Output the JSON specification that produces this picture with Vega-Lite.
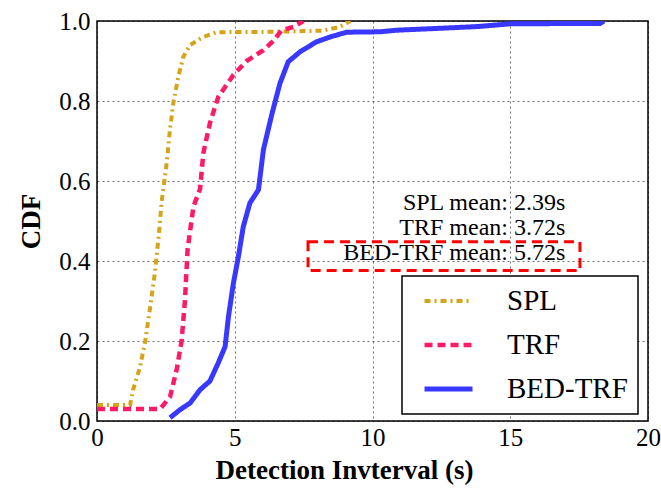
{
  "$schema": "https://vega.github.io/schema/vega-lite/v6.json",
  "width": 551,
  "height": 400,
  "autosize": {"type": "none"},
  "padding": {"left": 97, "top": 21, "right": 13, "bottom": 67},
  "background": "white",
  "config": {
    "font": "Liberation Serif",
    "view": {"stroke": "#000", "strokeWidth": 1.5},
    "legend": {"strokeColor": "#000", "strokeWidth": 1.5, "fillColor": "white", "cornerRadius": 0, "padding": 10},
    "axis": {
      "domain": false,
      "ticks": false,
      "grid": true,
      "gridColor": "#000",
      "gridOpacity": 0.7,
      "gridDash": [2, 3],
      "gridWidth": 0.8,
      "labelFlush": false,
      "labelFont": "Liberation Serif",
      "labelFontSize": 25,
      "labelColor": "#000",
      "titleFont": "Liberation Serif",
      "titleFontSize": 27,
      "titleFontWeight": "bold",
      "titleColor": "#000"
    }
  },
  "datasets": {
    "curves": [
      {"series": "SPL", "x": 0, "y": 0.04},
      {"series": "SPL", "x": 1.2, "y": 0.04},
      {"series": "SPL", "x": 1.31, "y": 0.078},
      {"series": "SPL", "x": 1.56, "y": 0.135},
      {"series": "SPL", "x": 1.74, "y": 0.195},
      {"series": "SPL", "x": 1.92, "y": 0.28},
      {"series": "SPL", "x": 2.1, "y": 0.37},
      {"series": "SPL", "x": 2.25, "y": 0.47},
      {"series": "SPL", "x": 2.35, "y": 0.55},
      {"series": "SPL", "x": 2.53, "y": 0.645},
      {"series": "SPL", "x": 2.65, "y": 0.73},
      {"series": "SPL", "x": 2.77, "y": 0.795},
      {"series": "SPL", "x": 2.95, "y": 0.86},
      {"series": "SPL", "x": 3.13, "y": 0.91},
      {"series": "SPL", "x": 3.38, "y": 0.94},
      {"series": "SPL", "x": 3.85, "y": 0.96},
      {"series": "SPL", "x": 4.34, "y": 0.972},
      {"series": "SPL", "x": 6.5, "y": 0.973},
      {"series": "SPL", "x": 8.2, "y": 0.976},
      {"series": "SPL", "x": 8.8, "y": 0.985},
      {"series": "SPL", "x": 9.2, "y": 1.0},
      {"series": "TRF", "x": 0, "y": 0.03},
      {"series": "TRF", "x": 2.29, "y": 0.03},
      {"series": "TRF", "x": 2.65, "y": 0.06},
      {"series": "TRF", "x": 2.89, "y": 0.128},
      {"series": "TRF", "x": 3.07, "y": 0.2},
      {"series": "TRF", "x": 3.19, "y": 0.3},
      {"series": "TRF", "x": 3.29, "y": 0.43},
      {"series": "TRF", "x": 3.5, "y": 0.536},
      {"series": "TRF", "x": 3.74, "y": 0.58},
      {"series": "TRF", "x": 3.86, "y": 0.67},
      {"series": "TRF", "x": 4.1, "y": 0.745},
      {"series": "TRF", "x": 4.4, "y": 0.81},
      {"series": "TRF", "x": 4.95, "y": 0.865},
      {"series": "TRF", "x": 5.43, "y": 0.9},
      {"series": "TRF", "x": 6.04, "y": 0.927},
      {"series": "TRF", "x": 6.4, "y": 0.95},
      {"series": "TRF", "x": 6.7, "y": 0.977},
      {"series": "TRF", "x": 7.13, "y": 0.985},
      {"series": "TRF", "x": 7.49, "y": 1.0},
      {"series": "BED-TRF", "x": 2.65, "y": 0.008},
      {"series": "BED-TRF", "x": 3.01, "y": 0.028},
      {"series": "BED-TRF", "x": 3.38, "y": 0.045},
      {"series": "BED-TRF", "x": 3.74, "y": 0.078},
      {"series": "BED-TRF", "x": 4.1, "y": 0.1},
      {"series": "BED-TRF", "x": 4.4, "y": 0.145},
      {"series": "BED-TRF", "x": 4.65, "y": 0.186},
      {"series": "BED-TRF", "x": 4.77, "y": 0.26},
      {"series": "BED-TRF", "x": 4.95, "y": 0.344},
      {"series": "BED-TRF", "x": 5.13, "y": 0.41},
      {"series": "BED-TRF", "x": 5.31, "y": 0.486},
      {"series": "BED-TRF", "x": 5.55, "y": 0.545},
      {"series": "BED-TRF", "x": 5.86, "y": 0.578},
      {"series": "BED-TRF", "x": 6.04, "y": 0.678},
      {"series": "BED-TRF", "x": 6.34, "y": 0.765},
      {"series": "BED-TRF", "x": 6.64, "y": 0.844},
      {"series": "BED-TRF", "x": 6.94, "y": 0.898},
      {"series": "BED-TRF", "x": 7.37, "y": 0.923},
      {"series": "BED-TRF", "x": 7.97, "y": 0.948},
      {"series": "BED-TRF", "x": 8.46, "y": 0.96},
      {"series": "BED-TRF", "x": 9.06, "y": 0.972},
      {"series": "BED-TRF", "x": 10.27, "y": 0.973},
      {"series": "BED-TRF", "x": 10.88, "y": 0.977},
      {"series": "BED-TRF", "x": 12.2, "y": 0.981},
      {"series": "BED-TRF", "x": 13.78, "y": 0.986},
      {"series": "BED-TRF", "x": 15.0, "y": 0.993},
      {"series": "BED-TRF", "x": 18.26, "y": 0.994},
      {"series": "BED-TRF", "x": 18.4, "y": 1.0}
    ],
    "notes": [
      {"label": "SPL mean: 2.39s", "x": 17, "y": 0.545},
      {"label": "TRF mean: 3.72s", "x": 17, "y": 0.482},
      {"label": "BED-TRF mean: 5.72s", "x": 17, "y": 0.42}
    ],
    "box": [
      {"x": 7.66, "x2": 17.53, "y": 0.376, "y2": 0.448}
    ]
  },
  "layer": [
    {
      "data": {"name": "curves"},
      "mark": {"type": "line", "clip": true, "strokeCap": "butt"},
      "encoding": {
        "x": {
          "field": "x", "type": "quantitative",
          "scale": {"domain": [0, 20], "nice": false},
          "axis": {
            "values": [0, 5, 10, 15, 20], "format": "d",
            "labelPadding": 4,
            "title": "Detection Invterval (s)",
            "titleX": 247, "titleY": 57, "titleBaseline": "alphabetic", "titleAlign": "center"
          }
        },
        "y": {
          "field": "y", "type": "quantitative",
          "scale": {"domain": [0, 1], "nice": false},
          "axis": {
            "values": [0, 0.2, 0.4, 0.6, 0.8, 1.0], "format": ".1f",
            "labelPadding": 7,
            "title": "CDF",
            "titleX": -66, "titleY": 200, "titleAngle": 270,
            "titleAlign": "center", "titleBaseline": "middle"
          }
        },
        "color": {
          "field": "series", "type": "nominal",
          "scale": {"domain": ["SPL", "TRF", "BED-TRF"], "range": ["#D4A51A", "#FF1A66", "#3838FF"]},
          "legend": {
            "title": null,
            "orient": "none",
            "legendX": 305,
            "legendY": 255,
            "symbolType": "stroke",
            "symbolSize": 2304,
            "symbolStrokeWidth": 5,
            "symbolOffset": 10,
            "clipHeight": 30,
            "labelFontSize": 29,
            "labelFont": "Liberation Serif",
            "labelColor": "#000",
            "labelOffset": 32,
            "rowPadding": 14,
            "labelLimit": 300
          }
        },
        "strokeDash": {
          "field": "series", "type": "nominal",
          "scale": {"domain": ["SPL", "TRF", "BED-TRF"], "range": [[6, 4, 2, 4], [8, 5], [1, 0]]},
          "legend": null
        },
        "strokeWidth": {
          "field": "series", "type": "nominal",
          "scale": {"domain": ["SPL", "TRF", "BED-TRF"], "range": [4, 5, 6]},
          "legend": null
        }
      }
    },
    {
      "data": {"name": "notes"},
      "mark": {"type": "text", "align": "right", "baseline": "middle", "fontSize": 24, "font": "Liberation Serif", "color": "#000"},
      "encoding": {
        "x": {"field": "x", "type": "quantitative"},
        "y": {"field": "y", "type": "quantitative"},
        "text": {"field": "label"}
      }
    },
    {
      "data": {"name": "box"},
      "mark": {"type": "rect", "fill": null, "fillOpacity": 0, "stroke": "#FF0000", "strokeWidth": 3, "strokeDash": [10, 6]},
      "encoding": {
        "x": {"field": "x", "type": "quantitative"},
        "x2": {"field": "x2"},
        "y": {"field": "y", "type": "quantitative"},
        "y2": {"field": "y2"}
      }
    }
  ]
}
